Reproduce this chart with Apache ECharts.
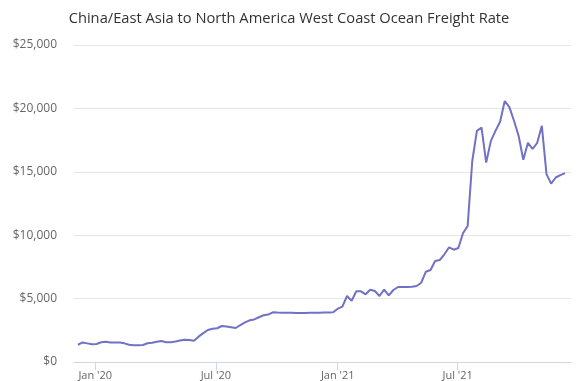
<!DOCTYPE html>
<html>
<head>
<meta charset="utf-8">
<script src="https://cdn.jsdelivr.net/npm/echarts@6/dist/echarts.min.js"></script>
<style>
  html, body { margin: 0; padding: 0; background: #fff; }
  #chart { width: 578px; height: 381px; }
</style>
</head>
<body>
<div id="chart"></div>
<script>
// weekly index dates (Fridays)
var weekDates = [
    '2019-12-06','2019-12-13','2019-12-20','2019-12-27',
    '2020-01-03','2020-01-10','2020-01-17','2020-01-24','2020-01-31',
    '2020-02-07','2020-02-14','2020-02-21','2020-02-28',
    '2020-03-06','2020-03-13','2020-03-20','2020-03-27',
    '2020-04-03','2020-04-10','2020-04-17','2020-04-24',
    '2020-05-01','2020-05-08','2020-05-15','2020-05-22','2020-05-29',
    '2020-06-05','2020-06-12','2020-06-19','2020-06-26',
    '2020-07-03','2020-07-10','2020-07-17','2020-07-24','2020-07-31',
    '2020-08-07','2020-08-14','2020-08-21','2020-08-28',
    '2020-09-04','2020-09-11','2020-09-18','2020-09-25',
    '2020-10-02','2020-10-09','2020-10-16','2020-10-23','2020-10-30',
    '2020-11-06','2020-11-13','2020-11-20','2020-11-27',
    '2020-12-04','2020-12-11','2020-12-18','2020-12-25',
    '2021-01-01','2021-01-08','2021-01-15','2021-01-22','2021-01-29',
    '2021-02-05','2021-02-12','2021-02-19','2021-02-26',
    '2021-03-05','2021-03-12','2021-03-19','2021-03-26',
    '2021-04-02','2021-04-09','2021-04-16','2021-04-23','2021-04-30',
    '2021-05-07','2021-05-14','2021-05-21','2021-05-28',
    '2021-06-04','2021-06-11','2021-06-18','2021-06-25',
    '2021-07-02','2021-07-09','2021-07-16','2021-07-23','2021-07-30',
    '2021-08-06','2021-08-13','2021-08-20','2021-08-27',
    '2021-09-03','2021-09-10','2021-09-17','2021-09-24',
    '2021-10-01','2021-10-08','2021-10-15','2021-10-22','2021-10-29',
    '2021-11-05','2021-11-12','2021-11-19','2021-11-26',
    '2021-12-03','2021-12-10'
];

// freight rate, USD per FEU
var rates = [
    1360, 1540, 1470, 1400, 1420, 1560, 1590, 1530, 1530, 1530,
    1470, 1365, 1320, 1330, 1345, 1475, 1520, 1600, 1650, 1560,
    1560, 1620, 1690, 1760, 1740, 1680, 2000, 2280, 2524, 2626,
    2660, 2839, 2800, 2740, 2681, 2900, 3120, 3288, 3360, 3530,
    3690, 3740, 3919, 3900, 3890, 3880, 3880, 3870, 3870, 3870,
    3880, 3880, 3890, 3900, 3910, 3920, 4203, 4361, 5205, 4834,
    5575, 5575, 5339, 5702, 5599, 5205, 5702, 5260, 5678, 5914,
    5914, 5920, 5930, 5993, 6254, 7121, 7255, 7965, 8044, 8493,
    9045, 8856, 8990, 10149, 10720, 15850, 18224, 18493, 15725, 17420,
    18224, 18950, 20583, 20102, 19030, 17822, 15946, 17286, 16797, 17286,
    18627, 14818, 14068, 14550, 14739, 14900
];

var tickDates = ['2020-01-01', '2020-07-01', '2021-01-01', '2021-07-01'];
var tickLabels = ["Jan '20", "Jul '20", "Jan '21", "Jul '21"];

var titleText = 'China/East Asia to North America West Coast Ocean Freight Rate';
var lineColor = '#7171c6';

function toTime(d) {
    return new Date(d + 'T00:00:00Z').getTime();
}

var tickTimes = tickDates.map(toTime);
var seriesData = [];
weekDates.forEach(function (d, i) {
    seriesData.push([toTime(d), rates[i]]);
});

function dollars(v) {
    return '$' + v.toString().replace(/\B(?=(\d{3})+(?!\d))/g, ',');
}

var chart = echarts.init(document.getElementById('chart'), null, { renderer: 'canvas' });
chart.setOption({
    animation: false,
    title: {
        text: titleText,
        left: 'center',
        top: 6,
        textStyle: {
            fontFamily: 'Open Sans',
            fontSize: 14.7,
            fontWeight: 'normal',
            color: '#333333'
        }
    },
    grid: { left: 74, right: 7, top: 45, bottom: 19, containLabel: false },
    xAxis: {
        // timestamps on a plain value axis, so ticks can sit on month starts
        type: 'value',
        min: toTime('2019-11-30'),
        max: toTime('2021-12-19'),
        axisLine: { show: true, lineStyle: { color: '#ccd6eb', width: 1 } },
        axisTick: {
            show: true,
            length: 8,
            customValues: tickTimes,
            lineStyle: { color: '#ccd6eb' }
        },
        axisLabel: {
            customValues: tickTimes,
            margin: 8,
            fontFamily: 'Open Sans',
            fontSize: 11,
            color: '#666666',
            formatter: function (v) {
                var idx = tickTimes.indexOf(v);
                return idx >= 0 ? tickLabels[idx] : '';
            }
        },
        splitLine: { show: false }
    },
    yAxis: {
        type: 'value',
        min: 0,
        max: 25000,
        interval: 5000,
        axisLine: { show: false },
        axisTick: { show: false },
        axisLabel: {
            margin: 17,
            fontFamily: 'Open Sans',
            fontSize: 12,
            color: '#666666',
            formatter: dollars
        },
        splitLine: { lineStyle: { color: '#e6e6e6', width: 1 } }
    },
    series: [{
        type: 'line',
        data: seriesData,
        showSymbol: false,
        lineStyle: { color: lineColor, width: 2 },
        itemStyle: { color: lineColor }
    }]
});
</script>
</body>
</html>
